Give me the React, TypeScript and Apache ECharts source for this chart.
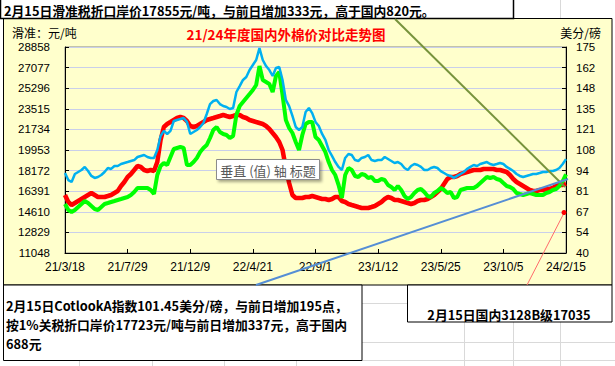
import React, { useEffect, useRef } from 'react';
import * as echarts from 'echarts';

// ---------- data ----------
const startDateUTC = Date.UTC(2021, 2, 18);
const weekCount = 153;
const categories: string[] = [];
for (let i = 0; i < weekCount; i++) {
  const d = new Date(startDateUTC + i * 7 * 86400000);
  categories.push(`${String(d.getUTCFullYear()).slice(2)}/${d.getUTCMonth() + 1}/${d.getUTCDate()}`);
}

// 国内3128B (元/吨), red
const domestic3128B = [
  16062, 15457, 15197, 15370, 15543, 15716, 15889, 16062, 16235, 16062,
  15889, 15889, 15889, 15975, 16062, 16235, 16408, 16840, 17186, 17618,
  17878, 18223, 18569, 18483, 18223, 18137, 18223, 18137, 18915, 20817,
  21941, 22201, 22373, 22546, 22719, 22806, 22719, 22460, 22028, 21941,
  22028, 22201, 22373, 22546, 22633, 22719, 22806, 22892, 22979, 22892,
  22806, 22892, 22979, 22979, 22806, 22719, 22546, 22460, 22373, 22287,
  22201, 22028, 21768, 21422, 21077, 20644, 19953, 18396, 17099, 16062,
  15803, 15803, 15803, 15889, 15889, 15975, 15889, 15803, 15716, 15716,
  15630, 15716, 15889, 15889, 15543, 15457, 15284, 15197, 15111, 15024,
  14938, 14938, 14938, 15024, 15111, 15284, 15457, 15716, 15889, 15803,
  15630, 15630, 15543, 15457, 15370, 15284, 15370, 15543, 15630, 15630,
  15716, 15889, 16062, 16321, 16581, 17013, 17445, 17618, 17618, 17705,
  17878, 17964, 18050, 18137, 18223, 18223, 18223, 18310, 18310, 18310,
  18310, 18223, 18223, 18137, 18050, 17791, 17445, 17186, 17013, 16840,
  16667, 16494, 16408, 16408, 16494, 16494, 16581, 16581, 16667, 16840,
  16927, 16927, 17035,
];

// 滑准税折口岸价 (元/吨), green
const slidingTaxPrice = [
  15284, 14765, 14592, 14765, 15024, 15284, 15543, 15370, 15111, 14852,
  14765, 15024, 15284, 15370, 15457, 15543, 15630, 15716, 15803, 15889,
  16062, 16321, 16667, 16667, 16667, 16667, 16494, 16148, 17791, 18569,
  18829, 18656, 19347, 20039, 20126, 20212, 20126, 18656, 18656, 18915,
  19261, 19780, 20126, 20385, 20990, 21682, 21941, 21509, 21336, 21250,
  20990, 21163, 22979, 23757, 24103, 24449, 24794, 25140, 25573, 27215,
  26005, 25832, 25659, 24967, 26351, 26696, 24708, 22546, 21855, 21422,
  20644, 19953, 21250, 22201, 22373, 22373, 21077, 20817, 20298, 19780,
  18915, 18223, 17791, 16927, 15803, 17791, 18396, 18223, 17705, 17618,
  17878, 17791, 17532, 17618, 17272, 17272, 17445, 17359, 16927, 16754,
  16494, 16840, 16494, 15975, 15716, 15889, 16235, 16494, 16581, 16321,
  15975, 15889, 16235, 16408, 16667, 16494, 16235, 16321, 15803, 15889,
  16494, 16581, 16667, 16667, 16667, 16840, 17099, 17359, 17618, 17532,
  17618, 17445, 17359, 17099, 16840, 16754, 16581, 16235, 16148, 16062,
  16148, 16235, 16148, 16062, 16062, 16062, 16235, 16321, 16494, 16581,
  16840, 17272, 17855,
];

// CotlookA 指数 (美分/磅), blue
const cotlookA = [
  92.4, 87.8, 86.5, 91.8, 93.1, 94.4, 96.4, 93.7, 90.5, 89.2,
  89.8, 91.1, 93.1, 95.7, 95.1, 97.0, 97.0, 98.3, 99.0, 99.6,
  100.3, 100.9, 102.9, 103.6, 104.2, 102.9, 102.3, 102.3, 107.5, 116.7,
  120.0, 118.0, 120.0, 126.5, 127.2, 127.8, 128.5, 125.9, 118.0, 119.3,
  120.6, 122.6, 125.2, 131.1, 137.6, 139.6, 140.3, 137.6, 136.3, 135.7,
  134.4, 135.0, 145.5, 149.4, 153.4, 155.3, 159.9, 163.2, 166.5, 174.3,
  166.5, 162.5, 159.9, 156.0, 161.2, 161.9, 153.4, 140.3, 136.3, 129.8,
  122.6, 120.6, 122.6, 132.4, 135.0, 131.7, 125.9, 123.2, 118.0, 114.1,
  107.5, 103.6, 99.6, 96.4, 94.4, 102.3, 104.9, 104.2, 100.9, 100.3,
  102.3, 102.9, 104.2, 100.9, 100.3, 100.9, 100.9, 102.9, 101.6, 100.3,
  99.0, 99.6, 98.3, 95.7, 94.4, 97.0, 98.3, 97.7, 96.4, 94.4,
  94.4, 95.7, 96.4, 95.7, 93.7, 92.4, 91.1, 90.5, 89.2, 90.5,
  91.8, 93.1, 95.1, 96.4, 97.7, 97.0, 98.3, 99.0, 99.6, 98.3,
  97.7, 98.3, 99.0, 98.3, 96.4, 95.1, 93.7, 91.8, 90.5, 89.8,
  90.5, 91.1, 91.8, 91.8, 92.4, 93.1, 93.1, 93.7, 93.7, 94.4,
  95.7, 98.3, 101.5,
];

const leftTicks = [11048, 12829, 14610, 16391, 18172, 19953, 21734, 23515, 25296, 27077, 28858];
const leftTickLabels = ['11048', '12829', '14610', '16391', '18172', '19953', '21734', '23515', '25296', '27077', '28858'];
const rightTicks = [40, 53.5, 67, 80.5, 94, 107.5, 121, 134.5, 148, 161.5, 175];
const rightTickLabels = ['40', '54', '67', '81', '94', '108', '121', '135', '148', '162', '175'];

const chartTitle = '21/24年度国内外棉价对比走势图';
const leftAxisName = '滑准：元/吨';
const rightAxisName = '美分/磅';
const topNote = '2月15日滑准税折口岸价17855元/吨，与前日增加333元，高于国内820元。';
const bottomNoteLines = [
  '2月15日CotlookA指数101.45美分/磅，与前日增加195点，',
  '按1%关税折口岸价17723元/吨与前日增加337元，高于国内',
  '688元',
];
const rightNote = '2月15日国内3128B级17035';
const placeholderTitle = '垂直 (值) 轴 标题';

const CJK = '"Noto Sans CJK SC", "Noto Sans", sans-serif';
const NUM = '"Liberation Sans", Arial, sans-serif';

function labelFor(ticks: number[], labels: string[], v: number) {
  const i = ticks.findIndex((t) => Math.abs(t - v) < 1e-6);
  return i >= 0 ? labels[i] : '';
}

function txt(text: string, x: number, y: number, opts: any = {}) {
  const align = opts.align || 'left';
  return {
    type: 'text',
    z: opts.z ?? 20,
    style: {
      text,
      x,
      y,
      fill: opts.fill || '#000',
      fontSize: opts.fontSize || 12,
      fontWeight: opts.fontWeight || 'normal',
      fontFamily: opts.fontFamily || CJK,
      textAlign: align,
      align,
      textVerticalAlign: 'middle',
      verticalAlign: 'middle',
    },
  };
}

function ln(x1: number, y1: number, x2: number, y2: number, stroke: string, lineWidth: number, z: number) {
  return { type: 'line', z, shape: { x1, y1, x2, y2 }, style: { stroke, lineWidth } };
}

export default function App() {
  const ref = useRef<HTMLDivElement>(null);

  useEffect(() => {
    if (!ref.current) return;
    const chart = echarts.init(ref.current, undefined, { renderer: 'svg' });
    const gridColor = '#D9D9D9';

    const graphics: any[] = [
      { type: 'rect', z: -20, shape: { x: 0, y: 0, width: 615, height: 366 }, style: { fill: '#ffffff' } },
      // excel sheet grid
      ln(560.5, 0, 560.5, 19, gridColor, 1, -19),
      ln(362, 303.5, 407, 303.5, gridColor, 1, -19),
      ln(362, 342.5, 615, 342.5, gridColor, 1, -19),
      ln(362, 360.5, 615, 360.5, gridColor, 1, -19),
      ln(464.5, 322, 464.5, 366, gridColor, 1, -19),
      ln(513.5, 322, 513.5, 366, gridColor, 1, -19),
      ln(560.5, 322, 560.5, 366, gridColor, 1, -19),
      ln(79.5, 360, 79.5, 366, gridColor, 1, -19),
      ln(152.5, 360, 152.5, 366, gridColor, 1, -19),
      ln(224.5, 360, 224.5, 366, gridColor, 1, -19),
      ln(296.5, 360, 296.5, 366, gridColor, 1, -19),
      // chart area
      { type: 'rect', z: -18, shape: { x: 3.5, y: 18.5, width: 608.5, height: 266.5 }, style: { fill: '#FFFFCC', stroke: '#000', lineWidth: 1 } },
      // top note box
      { type: 'rect', z: -17, shape: { x: 0.5, y: -2, width: 513, height: 20.5 }, style: { fill: '#ffffff', stroke: '#000', lineWidth: 1.5 } },
      txt(topNote, 4, 10.5, { fontSize: 12.8, fontWeight: 'bold' }),
      // bottom notes
      { type: 'rect', z: -17, shape: { x: 3.5, y: 285, width: 358.5, height: 75.5 }, style: { fill: '#ffffff', stroke: '#000', lineWidth: 1 } },
      txt(bottomNoteLines[0], 6, 305, { fontSize: 12.8, fontWeight: 'bold' }),
      txt(bottomNoteLines[1], 6, 324, { fontSize: 12.8, fontWeight: 'bold' }),
      txt(bottomNoteLines[2], 6, 343, { fontSize: 12.8, fontWeight: 'bold' }),
      { type: 'rect', z: -17, shape: { x: 407.5, y: 285, width: 204.5, height: 37 }, style: { fill: '#ffffff', stroke: '#000', lineWidth: 1 } },
      txt(rightNote, 509, 314, { fontSize: 12.8, fontWeight: 'bold', align: 'center' }),
      // titles
      txt(chartTitle, 286, 34, { fontSize: 13.5, fontWeight: 'bold', fill: '#FF0000', align: 'center' }),
      txt(leftAxisName, 12, 32, { fontSize: 12 }),
      txt(rightAxisName, 601, 32, { fontSize: 12, align: 'right' }),
      // callout lines
      ln(395, 19, 565, 187, '#77933C', 2, 50),
      ln(256, 285, 568, 179, '#558ED5', 2, 50),
      ln(527, 285, 564, 213, '#FF6B6B', 1, 50),
      { type: 'circle', z: 51, shape: { cx: 564, cy: 212.5, r: 2.5 }, style: { fill: '#FF0000' } },
      // placeholder axis title box
      {
        type: 'rect', z: 60,
        shape: { x: 216.5, y: 159.5, width: 103, height: 20 },
        style: { fill: '#ffffff', stroke: '#8C8C8C', lineWidth: 1, shadowBlur: 3, shadowOffsetX: 2, shadowOffsetY: 2, shadowColor: 'rgba(0,0,0,0.35)' },
      },
      txt(placeholderTitle, 268, 170, { fontSize: 13, fill: '#595959', align: 'center', z: 61 }),
    ];

    const option: any = {
      animation: false,
      backgroundColor: '#ffffff',
      textStyle: { fontFamily: NUM },
      graphic: { elements: graphics },
      grid: {
        left: 65, top: 47, width: 501, height: 206,
        show: true, borderColor: '#868686', borderWidth: 1, backgroundColor: 'transparent',
      },
      xAxis: {
        type: 'category',
        data: categories,
        boundaryGap: false,
        axisLine: { show: true, lineStyle: { color: '#000', width: 1 } },
        axisTick: { show: true, inside: true, length: 4, interval: 18, lineStyle: { color: '#000' } },
        axisLabel: { interval: 18, color: '#000', fontSize: 12, fontFamily: NUM, margin: 8 },
        splitLine: { show: false },
      },
      yAxis: [
        {
          type: 'value',
          position: 'left',
          min: 11048,
          max: 28858,
          axisLine: { show: true, lineStyle: { color: '#000', width: 1 } },
          axisTick: { show: true, inside: true, length: 4, customValues: leftTicks, lineStyle: { color: '#000' } },
          axisLabel: {
            customValues: leftTicks,
            color: '#000', fontSize: 11.5, fontFamily: NUM, margin: 15,
            formatter: (v: number) => labelFor(leftTicks, leftTickLabels, v),
          },
          splitLine: { show: true, lineStyle: { color: '#C9CFEA', width: 1 } },
        },
        {
          type: 'value',
          position: 'right',
          min: 40,
          max: 175,
          axisLine: { show: true, lineStyle: { color: '#000', width: 1 } },
          axisTick: { show: true, inside: true, length: 4, customValues: rightTicks, lineStyle: { color: '#000' } },
          axisLabel: {
            customValues: rightTicks,
            color: '#000', fontSize: 11.5, fontFamily: NUM, margin: 10,
            formatter: (v: number) => labelFor(rightTicks, rightTickLabels, v),
          },
          splitLine: { show: false },
        },
      ],
      series: [
        {
          name: '国内3128B', type: 'line', yAxisIndex: 0, data: domestic3128B,
          showSymbol: false, symbol: 'none', lineStyle: { color: '#FF0000', width: 4.5 }, z: 3,
        },
        {
          name: '滑准税折口岸价', type: 'line', yAxisIndex: 0, data: slidingTaxPrice,
          showSymbol: false, symbol: 'none', lineStyle: { color: '#00FF00', width: 4 }, z: 4,
        },
        {
          name: 'CotlookA', type: 'line', yAxisIndex: 1, data: cotlookA,
          showSymbol: false, symbol: 'none', lineStyle: { color: '#00B0F0', width: 2.5 }, z: 5,
        },
      ],
    };

    chart.setOption(option);
    return () => chart.dispose();
  }, []);

  return (
    <div
      ref={ref}
      style={{ position: 'fixed', left: 0, top: 0, width: 615, height: 366 }}
    />
  );
}
